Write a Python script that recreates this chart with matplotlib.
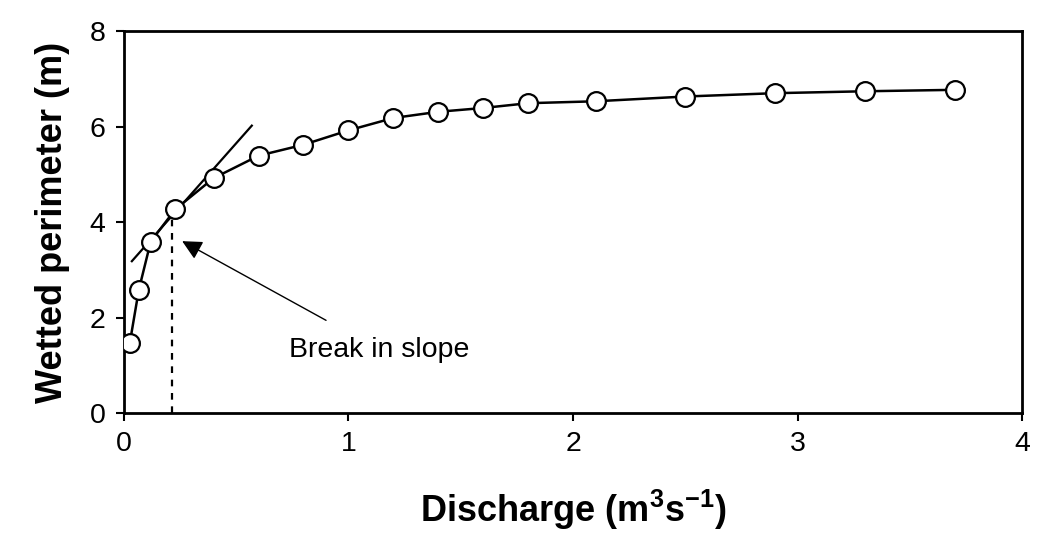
import matplotlib
matplotlib.use("Agg")
import matplotlib.pyplot as plt

plt.rcParams['font.family'] = ['Liberation Sans', 'DejaVu Sans']
plt.rcParams['mathtext.fontset'] = 'custom'
plt.rcParams['mathtext.rm'] = 'Liberation Sans'
plt.rcParams['mathtext.bf'] = 'Liberation Sans:bold'

discharge = [0.027, 0.067, 0.12, 0.23, 0.40, 0.60, 0.80, 1.0, 1.2, 1.4, 1.6, 1.8, 2.1, 2.5, 2.9, 3.3, 3.7]
perimeter = [1.47, 2.58, 3.59, 4.27, 4.92, 5.39, 5.62, 5.92, 6.18, 6.31, 6.39, 6.49, 6.53, 6.63, 6.70, 6.74, 6.77]

tangent_x = [0.036, 0.57]
tangent_y = [3.18, 6.02]

break_x = 0.215
break_y = 4.2

fig = plt.figure(figsize=(10.4, 5.46), dpi=100)
ax = fig.add_axes([0.119, 0.2436, 0.864, 0.6994])

ax.plot(tangent_x, tangent_y, color='black', lw=1.6, zorder=2)
ax.plot([break_x, break_x], [0, break_y], color='black', lw=1.6, ls=(0, (3, 3)), zorder=1)
ax.plot(discharge, perimeter, color='black', lw=1.8, marker='o', markersize=13.5,
        markerfacecolor='white', markeredgecolor='black', markeredgewidth=1.6, zorder=3)

ax.annotate('Break in slope', xy=(0.26, 3.6), xytext=(0.735, 1.33),
            fontsize=20.5, va='center', ha='left',
            arrowprops=dict(arrowstyle='-|>', color='black', lw=1.0,
                            mutation_scale=30, shrinkA=20, shrinkB=0))

ax.set_xlim(0, 4)
ax.set_ylim(0, 8)
ax.set_xticks([0, 1, 2, 3, 4])
ax.set_yticks([0, 2, 4, 6, 8])
ax.tick_params(direction='out', length=6, width=1.5, labelsize=20.5, pad=7)
for s in ax.spines.values():
    s.set_linewidth(2)
ax.set_xlabel('Discharge (m$^{\\mathbf{3}}$s$^{\\mathbf{-1}}$)', fontsize=26, fontweight='bold', labelpad=22)
ax.set_ylabel('Wetted perimeter (m)', fontsize=26, fontweight='bold', labelpad=14)

fig.savefig('out.png', dpi=100, facecolor='white')
